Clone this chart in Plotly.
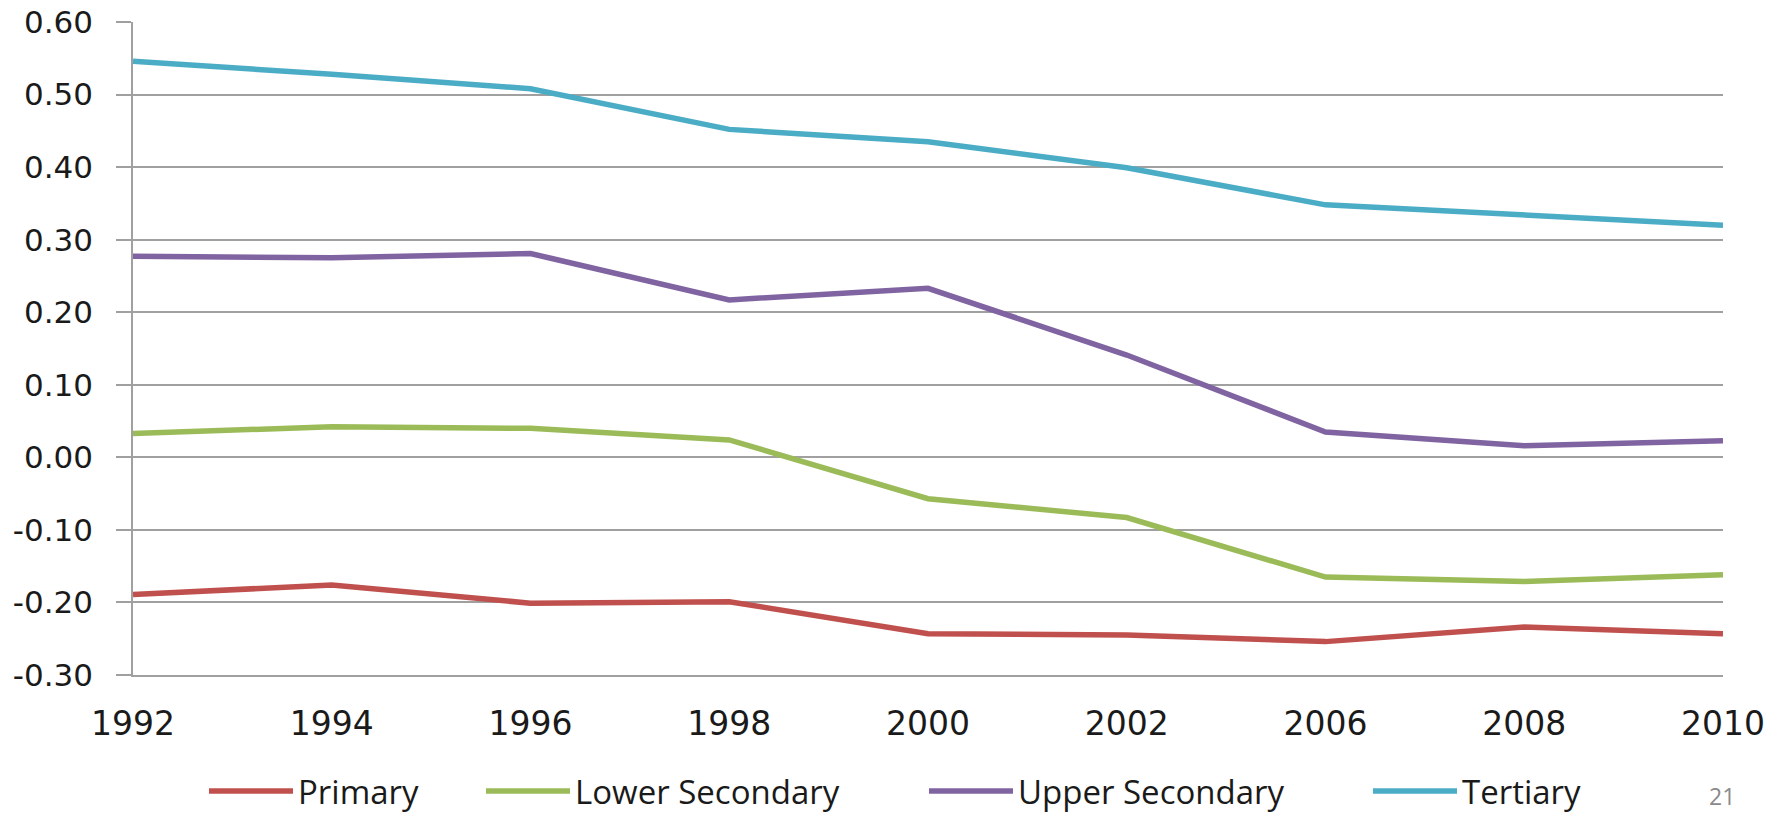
import plotly.graph_objects as go

years = ["1992", "1994", "1996", "1998", "2000", "2002", "2006", "2008", "2010"]
primary = [-0.189, -0.176, -0.201, -0.199, -0.243, -0.245, -0.254, -0.234, -0.243]
lower_secondary = [0.033, 0.042, 0.040, 0.024, -0.057, -0.083, -0.165, -0.171, -0.162]
upper_secondary = [0.277, 0.275, 0.281, 0.217, 0.233, 0.141, 0.035, 0.016, 0.023]
tertiary = [0.546, 0.528, 0.508, 0.452, 0.435, 0.399, 0.348, 0.334, 0.320]

series_names = ["Primary", "Lower Secondary", "Upper Secondary", "Tertiary"]
series_values = [primary, lower_secondary, upper_secondary, tertiary]
colors = ["#C0504D", "#9BBB59", "#8064A2", "#4BACC6"]

y_ticks = [-0.3, -0.2, -0.1, 0.0, 0.1, 0.2, 0.3, 0.4, 0.5, 0.6]
y_tick_text = ["-0.30", "-0.20", "-0.10", "0.00", "0.10", "0.20", "0.30", "0.40", "0.50", "0.60"]

W, H = 1785, 817
ML, MR, MT, MB = 133, 62, 22, 142
legend_ids = ["legend", "legend2", "legend3", "legend4"]
legend_x_px = [204, 481, 924, 1368]

fig = go.Figure()
for name, vals, col, lid in zip(series_names, series_values, colors, legend_ids):
    fig.add_trace(go.Scatter(
        x=years, y=vals, mode="lines", name=name, legend=lid,
        line=dict(color=col, width=5.5),
    ))

legend_style = dict(
    orientation="h", xref="container", yref="container",
    xanchor="left", y=1 - 791 / H, yanchor="middle",
    font=dict(family="Open Sans", size=33, color="#1a1a1a"),
    itemwidth=84, bgcolor="rgba(0,0,0,0)",
)
layout_legends = {}
for lid, lx in zip(legend_ids, legend_x_px):
    layout_legends[lid] = dict(legend_style, x=lx / W)

fig.update_layout(
    width=W, height=H,
    margin=dict(l=ML, r=MR, t=MT, b=MB, autoexpand=False),
    paper_bgcolor="white", plot_bgcolor="white",
    showlegend=True,
    font=dict(family="DejaVu Sans", color="#1a1a1a"),
    **layout_legends,
)
fig.update_xaxes(
    type="category", range=[0, len(years) - 1], automargin=False,
    showgrid=False, showline=True, linecolor="#A0A0A0", linewidth=1.5,
    ticks="", tickfont=dict(family="DejaVu Sans", size=33, color="#1a1a1a"),
    ticklabelstandoff=19, zeroline=False, ticklabeloverflow="allow",
)
fig.update_yaxes(
    range=[-0.3, 0.6], tickvals=y_ticks, ticktext=y_tick_text, automargin=False,
    showgrid=True, gridcolor="#A0A0A0", gridwidth=1.5,
    showline=True, linecolor="#A0A0A0", linewidth=1.5,
    ticks="outside", ticklen=15, tickcolor="#A0A0A0", tickwidth=1.5,
    tickfont=dict(family="DejaVu Sans", size=31, color="#1a1a1a"),
    ticklabelstandoff=17, zeroline=False, ticklabeloverflow="allow",
)
plot_w = W - ML - MR
plot_h = H - MT - MB
fig.add_annotation(
    text="21", xref="paper", yref="paper", x=(1722 - ML) / plot_w,
    y=-(796 - (H - MB)) / plot_h, xanchor="center", yanchor="middle",
    showarrow=False, borderpad=0,
    font=dict(family="Open Sans", size=23, color="#8A8A8A"),
)

fig.write_html(
    "out.html",
    config={"displayModeBar": False},
    post_script="document.body.style.margin='0';document.body.style.padding='0';",
)
